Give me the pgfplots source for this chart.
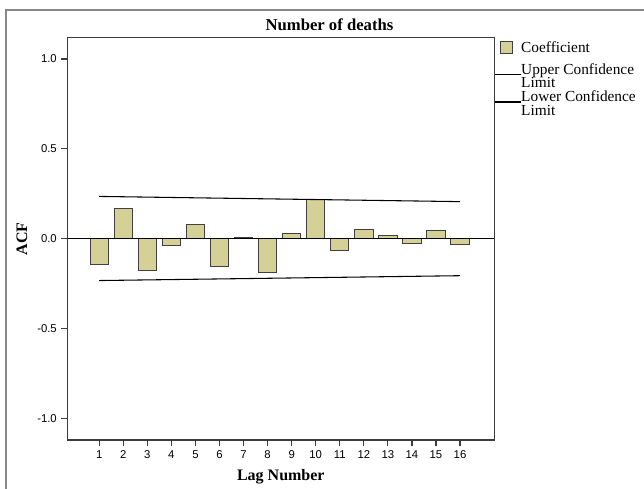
\documentclass[border=0pt]{standalone}
\usepackage{pgfplots}
\pgfplotsset{compat=1.18}
\usepackage{fontspec}
\setmainfont{Liberation Serif}
\newfontfamily\arial{Liberation Sans}
\definecolor{barcol}{RGB}{213,208,150}
\definecolor{framecol}{RGB}{136,136,136}
\definecolor{axcol}{RGB}{60,60,60}
\begin{document}
\begin{tikzpicture}[x=0.75pt,y=0.75pt]
\begin{axis}[
  anchor=south west,
  scale only axis,
  width=320pt, height=302pt,
  xmin=-0.32, xmax=17.42,
  ymin=-1.12, ymax=1.12,
  axis line style={axcol, line width=0.9pt},
  xtick={1,...,16},
  ytick={-1,-0.5,0,0.5,1},
  yticklabel style={/pgf/number format/.cd,fixed,fixed zerofill,precision=1},
  tick align=outside,
  tick pos=left,
  major tick length=4.5pt,
  tick style={axcol, line width=0.9pt},
  ticklabel style={font=\arial\fontsize{8.5}{9}\selectfont},
  /pgf/number format/assume math mode=true,
  title={\textbf{Number of deaths}},
  title style={font=\fontsize{12.5}{14}\selectfont, at={(axis description cs:0.614,1)}, anchor=base, yshift=-1.2pt},
  xlabel={\textbf{Lag Number}},
  ylabel={\textbf{ACF}},
  label style={font=\fontsize{12}{14}\selectfont},
  xlabel style={at={(axis description cs:0.5,-0.092)}, anchor=center},
  ylabel style={at={(axis description cs:-0.107,0.5)}, anchor=center},
  legend style={at={(axis description cs:1,1)}, anchor=north west, draw=none, fill=none,
    font=\fontsize{11.5}{9.75}\selectfont, inner sep=0pt, outer sep=0pt, row sep=0pt,
    yshift=-2.7pt,
    cells={anchor=west}, nodes={inner sep=0pt, outer sep=0pt, text height=7.6pt, text depth=2.7pt},
    /tikz/every even column/.append style={column sep=2.5pt}},
]
\addplot[ybar, bar width=0.76, draw=black!75, line width=0.6pt, fill=barcol,
  area legend,
  legend image code/.code={\draw[fill=barcol,draw=black!75,line width=0.6pt] (1.5pt,-0.5ex-0.75pt) rectangle (10.5pt,-0.5ex+8.25pt);
    \path (1.5pt,-0.5ex-8.4pt);}]
  coordinates {
  (1,-0.141) (2,0.170) (3,-0.176) (4,-0.037) (5,0.081) (6,-0.154) (7,0.005) (8,-0.189)
  (9,0.031) (10,0.217) (11,-0.063) (12,0.052) (13,0.017) (14,-0.026) (15,0.046) (16,-0.031)};
\addlegendentry{Coefficient}
\addplot[black, line width=0.8pt, forget plot] coordinates {(-0.32,0) (17.42,0)};
\addplot[black, line width=0.8pt,
  legend image code/.code={\draw[black,line width=0.8pt] (-3pt,-0.5ex-0.5pt) -- (16.5pt,-0.5ex-0.5pt);}]
  coordinates {(1,0.235) (16,0.206)};
\addlegendentry{Upper Confidence}
\addlegendimage{empty legend}
\addlegendentry{Limit}
\addplot[black, line width=0.8pt,
  legend image code/.code={\draw[black,line width=0.8pt] (-3pt,-0.5ex-0.5pt) -- (16.5pt,-0.5ex-0.5pt);}]
  coordinates {(1,-0.233) (16,-0.206)};
\addlegendentry{Lower Confidence}
\addlegendimage{empty legend}
\addlegendentry{Limit}
\end{axis}
\draw[framecol,line width=1.5pt] (-61.5,-49) -- (-61.5,430) -- (576.5,430);
\pgfresetboundingbox
\useasboundingbox (-67.5,-49) rectangle (576.5,440);
\end{tikzpicture}
\end{document}
